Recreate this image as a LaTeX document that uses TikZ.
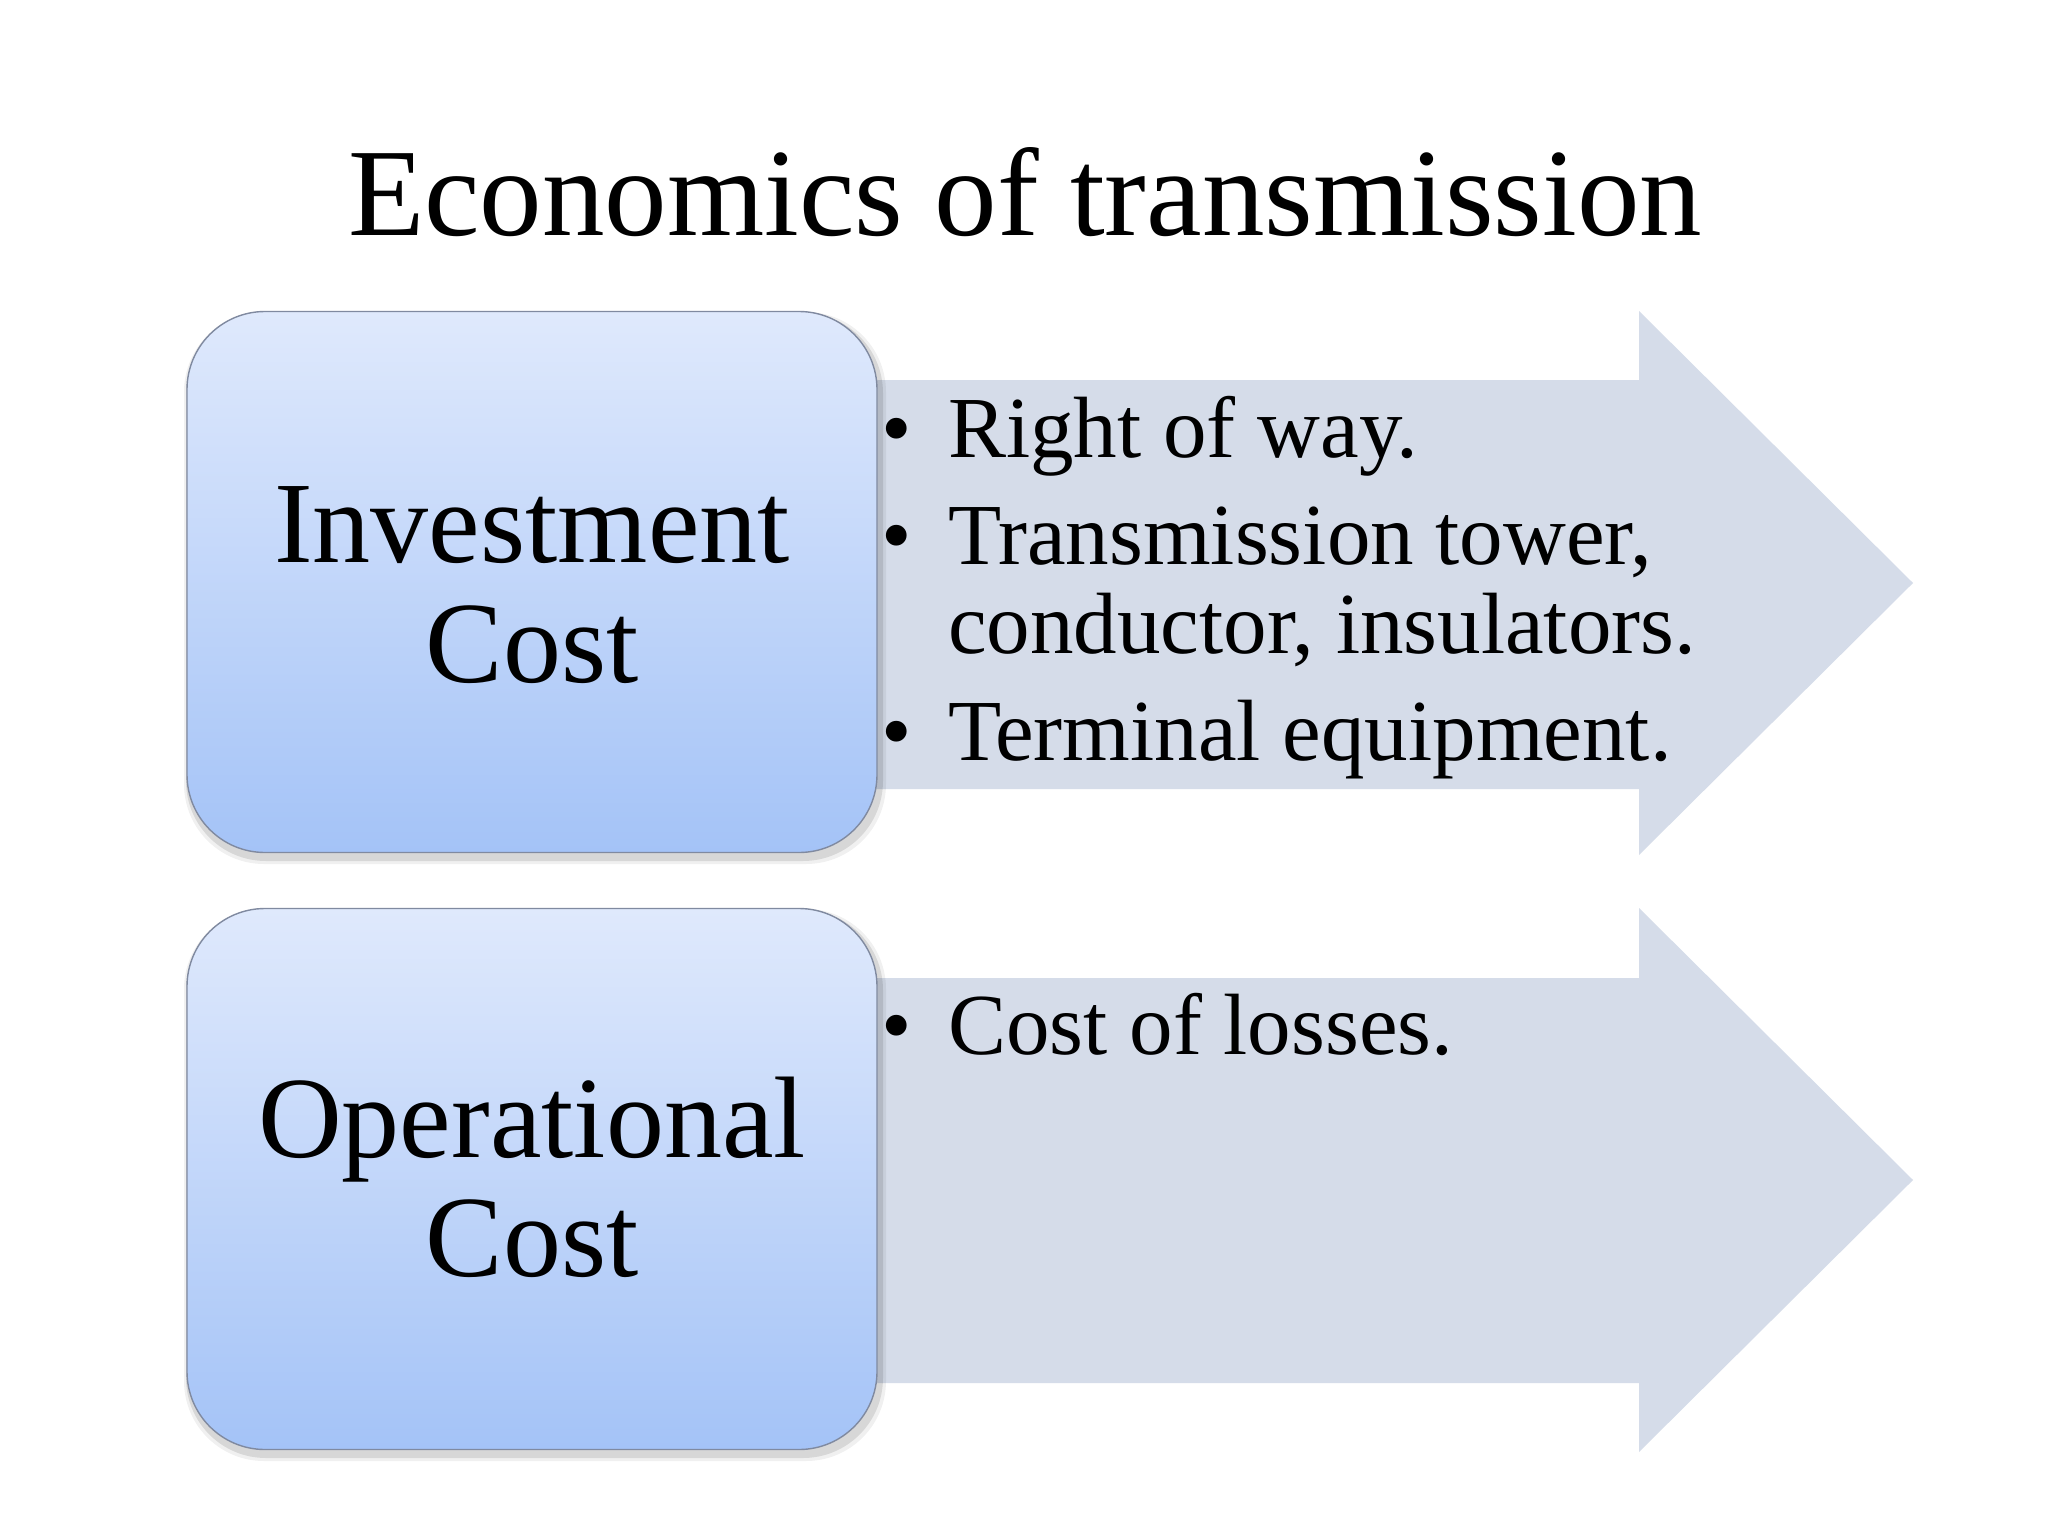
\documentclass[tikz,border=0pt]{standalone}
\usepackage{fontspec}
\setmainfont{Liberation Serif}
\definecolor{boxtop}{RGB}{223,233,252}
\definecolor{boxmid}{RGB}{198,216,250}
\definecolor{boxbot}{RGB}{164,195,247}
\definecolor{arrowfill}{RGB}{213,220,233}
\definecolor{boxline}{RGB}{128,138,160}
\tikzset{
  costbox/.style={draw=boxline, line width=1.4pt, rounded corners=78pt,
    top color=boxtop, middle color=boxmid, bottom color=boxbot,
    minimum width=690pt, minimum height=541pt, inner sep=0pt},
  boxshadow/.style={fill=black, rounded corners=80pt},
  boxtext/.style={anchor=base, inner sep=0pt, font=\fontsize{116}{120}\selectfont},
  itemtext/.style={anchor=base west, inner sep=0pt, font=\fontsize{87}{89}\selectfont},
  bulletdot/.style={anchor=base, inner sep=0pt, font=\fontsize{87}{89}\selectfont},
  bigarrow/.style={fill=arrowfill},
  titletext/.style={anchor=base, inner sep=0pt, font=\fontsize{125}{130}\selectfont}
}
\begin{document}
\begin{tikzpicture}[x=1pt,y=-1pt]
\useasboundingbox (0,0) rectangle (2048,1536);
\fill[white] (0,0) rectangle (2048,1536);

% title
\node[titletext] (title) at (1025,235) {Economics of transmission};

% arrows
\fill[bigarrow] (700,380) -- (1639,380) -- (1639,311) -- (1913,583) -- (1639,855) -- (1639,789) -- (700,789) -- cycle;
\fill[bigarrow] (700,978) -- (1639,978) -- (1639,908) -- (1913,1180) -- (1639,1452) -- (1639,1383) -- (700,1383) -- cycle;

% shadows
\fill[boxshadow, opacity=0.06] (184,312) rectangle (886,864);
\fill[boxshadow, opacity=0.10] (186,313) rectangle (883,861);
\fill[boxshadow, opacity=0.06] (184,909) rectangle (886,1461);
\fill[boxshadow, opacity=0.10] (186,910) rectangle (883,1458);

% boxes
\node[costbox] (inv) at (532,582) {};
\node[costbox] (op) at (532,1179) {};

\node[boxtext] (invA) at (532,562) {Investment};
\node[boxtext] (invB) at (532,682) {Cost};
\node[boxtext] (opA) at (532,1157) {Operational};
\node[boxtext] (opB) at (532,1276) {Cost};

% bullets, top arrow
\node[bulletdot] (d1) at (897,457) {•};
\node[itemtext] (i1) at (948,457) {Right of way.};
\node[bulletdot] (d2) at (897,564) {•};
\node[itemtext] (i2) at (948,564) {Transmission tower,};
\node[itemtext] (i2b) at (948,653) {conductor, insulators.};
\node[bulletdot] (d3) at (897,760) {•};
\node[itemtext] (i3) at (948,760) {Terminal equipment.};

% bullets, bottom arrow
\node[bulletdot] (d4) at (897,1054) {•};
\node[itemtext] (i4) at (948,1054) {Cost of losses.};
\end{tikzpicture}
\end{document}
